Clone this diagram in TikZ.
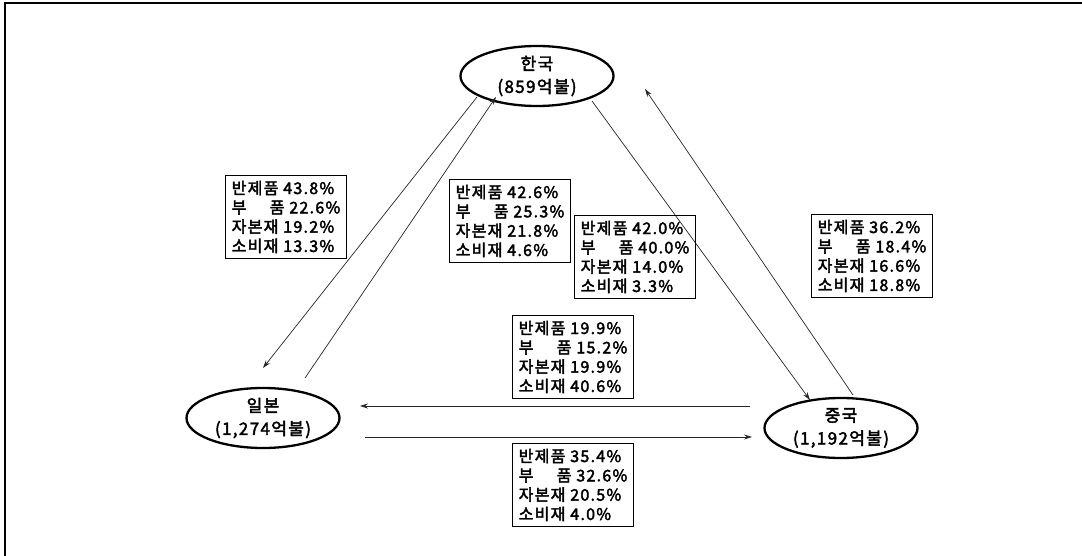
\documentclass[tikz,border=0pt]{standalone}
\usepackage{fontspec}
\setmainfont{Noto Sans CJK KR}[FakeBold=2.5,LetterSpace=8]
\usetikzlibrary{shapes.geometric,arrows.meta}
\tikzset{
  country/.style={ellipse,draw,line width=2.3pt,minimum width=153pt,minimum height=60pt,inner sep=0pt,align=center,font=\fontsize{17}{23}\selectfont},
  sharebox/.style={draw,line width=0.8pt,align=left,inner xsep=6pt,inner ysep=5pt,font=\fontsize{16}{19.3}\selectfont},
  flow/.style={draw=black!85,line width=0.7pt,-{Stealth[length=8pt,width=5pt]}}
}
\newcommand{\bupum}{\hbox to 3.3em{부\hfill 품}}
\begin{document}
\begin{tikzpicture}[x=1pt,y=-1pt]
\useasboundingbox (0,0) rectangle (1082,556);
\draw[line width=1.6pt] (5,556) -- (5,3) -- (1082,3);
\node[country] (korea) at (537,76) {한국\\(859억불)};
\node[country] (japan) at (263,418) {일본\\(1,274억불)};
\node[country] (china) at (841,428) {중국\\(1,192억불)};
\coordinate (kj1) at (477,97);
\coordinate (kj2) at (263,368);
\coordinate (jk1) at (305,378);
\coordinate (jk2) at (496,97);
\coordinate (kc1) at (592,101);
\coordinate (kc2) at (810,400);
\coordinate (ck1) at (853,395);
\coordinate (ck2) at (645,89);
\coordinate (cj1) at (750,406);
\coordinate (cj2) at (360,406);
\coordinate (jc1) at (365,437);
\coordinate (jc2) at (752,437);
\draw[flow] (kj1) -- (kj2);
\draw[flow] (jk1) -- (jk2);
\draw[flow] (kc1) -- (kc2);
\draw[flow] (ck1) -- (ck2);
\draw[flow] (cj1) -- (cj2);
\draw[flow] (jc1) -- (jc2);
\node[sharebox] (b1) at (286,217) {반제품 43.8\%\\\bupum{} 22.6\%\\자본재 19.2\%\\소비재 13.3\%};
\node[sharebox] (b2) at (510,221) {반제품 42.6\%\\\bupum{} 25.3\%\\자본재 21.8\%\\소비재 4.6\%};
\node[sharebox] (b3) at (635,257) {반제품 42.0\%\\\bupum{} 40.0\%\\자본재 14.0\%\\소비재 3.3\%};
\node[sharebox] (b4) at (872,256) {반제품 36.2\%\\\bupum{} 18.4\%\\자본재 16.6\%\\소비재 18.8\%};
\node[sharebox] (b5) at (573,357) {반제품 19.9\%\\\bupum{} 15.2\%\\자본재 19.9\%\\소비재 40.6\%};
\node[sharebox] (b6) at (573,485) {반제품 35.4\%\\\bupum{} 32.6\%\\자본재 20.5\%\\소비재 4.0\%};
\end{tikzpicture}
\end{document}
